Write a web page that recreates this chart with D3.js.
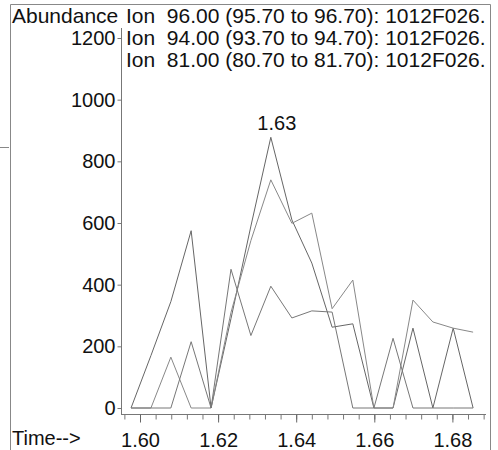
<!DOCTYPE html>
<html><head><meta charset="utf-8">
<script src="https://cdn.jsdelivr.net/npm/d3@7"></script>
<style>
html,body{margin:0;padding:0;background:#fff;}
svg{display:block;}
text{font-family:"Liberation Sans",Arial,sans-serif;fill:#111;}
</style></head>
<body>
<script>
// ---- data ----
const times = [1.5977, 1.6028, 1.6079, 1.6131, 1.6182, 1.6233, 1.6284, 1.6335, 1.6389, 1.6440, 1.6492, 1.6545, 1.6599, 1.6648, 1.6699, 1.6750, 1.6802, 1.6853];
const ion96 = [0, 170, 345, 575, 0, 290, 590, 878, 610, 470, 262, 273, 0, 0, 259, 0, 259, 0];
const ion94 = [0, 0, 165, 0, 0, 310, 543, 740, 599, 632, 322, 415, 0, 0, 350, 279, 259, 246];
const ion81 = [0, 0, 0, 215, 0, 450, 235, 395, 292, 315, 311, 0, 0, 226, 0, 0, 0, 0];
const ionLabels = [
  "Ion  96.00 (95.70 to 96.70): 1012F026.",
  "Ion  94.00 (93.70 to 94.70): 1012F026.",
  "Ion  81.00 (80.70 to 81.70): 1012F026."
];
const yTicks = [0, 200, 400, 600, 800, 1000, 1200];
const xTicks = [1.60, 1.62, 1.64, 1.66, 1.68];
const peakLabel = {time: 1.6335, value: 878, text: "1.63"};

const W = 498, H = 450;
const svg = d3.select("body").append("svg").attr("width", W).attr("height", H);

const x = d3.scaleLinear().domain([1.60, 1.68]).range([140, 452.4]);
const y = d3.scaleLinear().domain([0, 1200]).range([408, 38]);

// frame
const frame = svg.append("g").attr("stroke", "#888").attr("stroke-width", 1).attr("fill", "none");
frame.append("path").attr("d", "M10.5,450 V4.5 H490.5 V450");
frame.append("line").attr("x1", 0).attr("x2", 9).attr("y1", 147.5).attr("y2", 147.5);

// header text
svg.append("text").attr("x", 12).attr("y", 23).attr("font-size", 21).text("Abundance");
svg.selectAll("text.ion").data(ionLabels).enter().append("text")
  .attr("class", "ion").attr("x", 126).attr("y", (d, i) => 23 + i * 22)
  .attr("font-size", 21).attr("xml:space", "preserve").style("white-space", "pre").text(d => d);

// y axis
svg.append("line").attr("x1", 121.5).attr("x2", 121.5).attr("y1", 28).attr("y2", 414)
  .attr("stroke", "#777").attr("stroke-width", 1);
const yAxis = d3.axisLeft(y).tickValues(yTicks).tickSize(4).tickPadding(2).tickFormat(d3.format("d"));
const gy = svg.append("g").attr("transform", "translate(121.5,0)").call(yAxis);
gy.select(".domain").remove();
gy.selectAll(".tick line").attr("stroke", "#777");
gy.selectAll(".tick text").attr("font-size", 20).attr("font-family", "Liberation Sans, Arial, sans-serif").attr("fill", "#111");

// x axis
const axisY = 414.5;
svg.append("line").attr("x1", 121).attr("x2", 486).attr("y1", axisY).attr("y2", axisY)
  .attr("stroke", "#777").attr("stroke-width", 1);
const minor = d3.range(1.596, 1.6885, 0.004);
const gxm = svg.append("g").attr("transform", `translate(0,${axisY})`)
  .call(d3.axisBottom(x).tickValues(minor).tickSize(5).tickFormat(""));
gxm.select(".domain").remove();
gxm.selectAll(".tick line").attr("stroke", "#777");
const gx = svg.append("g").attr("transform", `translate(0,${axisY})`)
  .call(d3.axisBottom(x).tickValues(xTicks).tickSize(8).tickPadding(10).tickFormat(d3.format(".2f")));
gx.select(".domain").remove();
gx.selectAll(".tick line").attr("stroke", "#666");
gx.selectAll(".tick text").attr("font-size", 20).attr("font-family", "Liberation Sans, Arial, sans-serif").attr("fill", "#111");

svg.append("text").attr("x", 12).attr("y", 445).attr("font-size", 20).text("Time-->");

// series
const series = [
  {values: ion96, color: "#666"},
  {values: ion94, color: "#888"},
  {values: ion81, color: "#777"}
];
const line = d3.line().x(d => x(d[0])).y(d => y(d[1]));
svg.append("g").selectAll("path").data(series).enter().append("path")
  .attr("d", s => line(times.map((t, i) => [t, s.values[i]])))
  .attr("fill", "none").attr("stroke", s => s.color).attr("stroke-width", 1)
  .attr("stroke-linejoin", "miter");

// peak label
svg.append("text").attr("x", x(peakLabel.time) + 6).attr("y", y(peakLabel.value) - 7)
  .attr("text-anchor", "middle").attr("font-size", 20).text(peakLabel.text);
</script>
</body></html>
